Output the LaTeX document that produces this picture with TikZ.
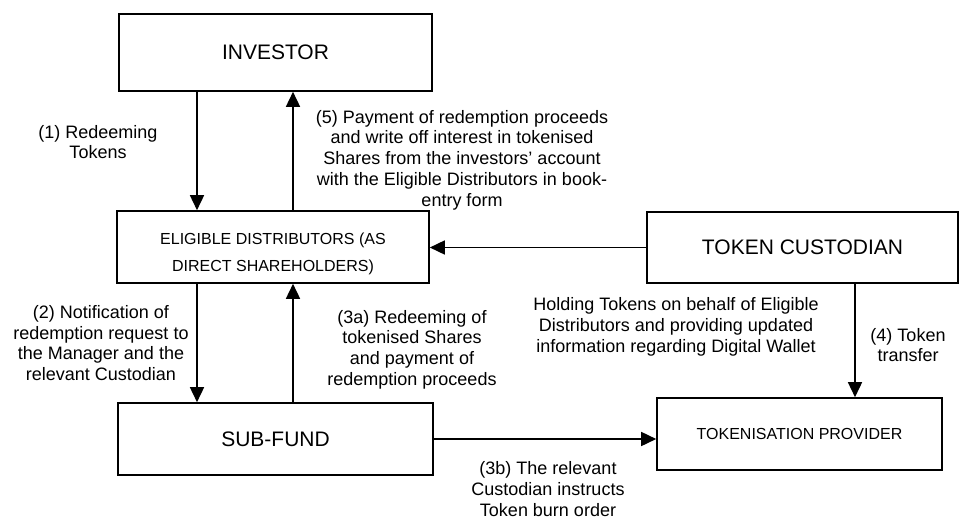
\documentclass[tikz,border=0pt]{standalone}
\usepackage{fontspec}
\setmainfont{Liberation Sans}
\usetikzlibrary{arrows.meta}
\begin{document}
\begin{tikzpicture}[x=1pt,y=-1pt,
  box/.style={draw=black,line width=1.6pt,inner sep=0pt,align=center},
  bigbox/.style={box,font=\fontsize{21}{24}\selectfont},
  smallbox/.style={box,font=\fontsize{16}{27}\selectfont},
  lbl/.style={align=center,inner sep=0pt,font=\fontsize{18}{20.7}\selectfont},
  arr/.style={line width=1.6pt,-{Triangle[length=15pt,width=14pt]}}]
\useasboundingbox (0,0) rectangle (963,519);
\node[bigbox,minimum width=313pt,minimum height=77pt] (inv) at (275.5,52.5) {INVESTOR};
\node[smallbox,minimum width=312pt,minimum height=72pt,text height=52.8pt] (eli) at (273,247) {ELIGIBLE DISTRIBUTORS (AS\\DIRECT SHAREHOLDERS)};
\node[bigbox,minimum width=315pt,minimum height=72pt] (sub) at (275.5,439) {SUB-FUND};
\node[bigbox,minimum width=311pt,minimum height=71pt] (tc) at (802.5,247.5) {TOKEN CUSTODIAN};
\node[smallbox,minimum width=285pt,minimum height=72pt] (tp) at (799.5,434) {TOKENISATION PROVIDER};
\coordinate (c1) at (197,0);
\coordinate (c2) at (293,0);
\coordinate (c4) at (855,0);
\draw[arr] (c1 |- inv.south) -- (c1 |- eli.north);
\draw[arr] (c2 |- eli.north) -- (c2 |- inv.south);
\draw[arr] (c1 |- eli.south) -- (c1 |- sub.north);
\draw[arr] (c2 |- sub.north) -- (c2 |- eli.south);
\draw[arr] (tc.west) -- (tc.west -| eli.east);
\draw[arr] (c4 |- tc.south) -- (c4 |- tp.north);
\draw[arr] (sub.east) -- (sub.east -| tp.west);
\node[lbl] (l1) at (98,142) {(1) Redeeming\\Tokens};
\node[lbl] (l5) at (462,160) {(5) Payment of redemption proceeds\\and write off interest in tokenised\\Shares from the investors’ account\\with the Eligible Distributors in book-\\entry form};
\node[lbl] (l2) at (101,343) {(2) Notification of\\redemption request to\\the Manager and the\\relevant Custodian};
\node[lbl] (l3a) at (412,349.5) {(3a) Redeeming of\\tokenised Shares\\and payment of\\redemption proceeds};
\node[lbl] (lh) at (676,327) {Holding Tokens on behalf of Eligible\\Distributors and providing updated\\information regarding Digital Wallet};
\node[lbl] (l4) at (908,345) {(4) Token\\transfer};
\node[lbl] (l3b) at (548,489) {(3b) The relevant\\Custodian instructs\\Token burn order};
\end{tikzpicture}
\end{document}
